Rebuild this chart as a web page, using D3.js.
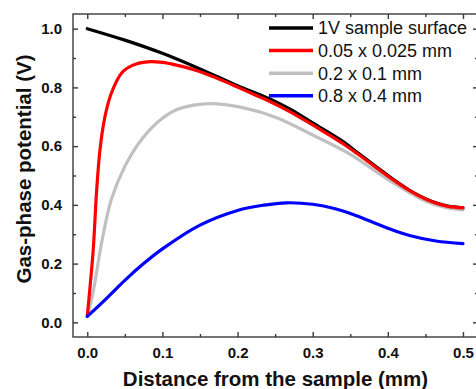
<!DOCTYPE html>
<html>
<head>
<meta charset="utf-8">
<script src="https://cdn.jsdelivr.net/npm/d3@7"></script>
<style>
  body { margin: 0; background: #fff; }
  svg { display: block; font-family: Arial, "Liberation Sans", sans-serif; }
  .axis path, .axis line { stroke: #3a3a3a; stroke-width: 1.4; }
  .axis text { font-size: 15px; font-weight: bold; fill: #111; }
</style>
</head>
<body>
<div id="chart"></div>
<script>
// series
const seriesNames = ['1V sample surface', '0.05 x 0.025 mm', '0.2 x 0.1 mm', '0.8 x 0.4 mm'];
const seriesColors = ['#000000', '#ff0000', '#c0c0c0', '#0000ff'];

const blackX = [0, 0.05, 0.1, 0.15, 0.2, 0.243, 0.27, 0.3, 0.34, 0.36, 0.385, 0.41, 0.43, 0.45, 0.465, 0.48, 0.5];
const blackY = [1.0, 0.961, 0.916, 0.863, 0.806, 0.761, 0.726, 0.679, 0.616, 0.577, 0.529, 0.482, 0.448, 0.421, 0.406, 0.396, 0.39];

const redX = [0, 0.004, 0.008, 0.0125, 0.017, 0.0235, 0.032, 0.046, 0.06, 0.08, 0.1, 0.12, 0.14, 0.16, 0.185, 0.2, 0.22, 0.243, 0.27, 0.3, 0.32, 0.34, 0.36, 0.385, 0.41, 0.43, 0.45, 0.465, 0.48, 0.5];
const redY = [0.02, 0.13, 0.25, 0.45, 0.59, 0.70, 0.78, 0.85, 0.875, 0.887, 0.885, 0.875, 0.862, 0.844, 0.818, 0.801, 0.778, 0.752, 0.717, 0.672, 0.641, 0.609, 0.573, 0.526, 0.48, 0.447, 0.42, 0.405, 0.395, 0.39];

const grayX = [0, 0.005, 0.01, 0.019, 0.032, 0.05, 0.072, 0.1, 0.123, 0.163, 0.207, 0.252, 0.3, 0.35, 0.4, 0.45, 0.475, 0.5];
const grayY = [0.02, 0.07, 0.134, 0.27, 0.418, 0.531, 0.622, 0.695, 0.728, 0.745, 0.731, 0.697, 0.638, 0.572, 0.487, 0.413, 0.392, 0.383];

const blueX = [0, 0.025, 0.05, 0.075, 0.1, 0.15, 0.2, 0.235, 0.265, 0.3, 0.33, 0.353, 0.38, 0.41, 0.43, 0.464, 0.5];
const blueY = [0.02, 0.08, 0.143, 0.2, 0.25, 0.331, 0.381, 0.399, 0.407, 0.402, 0.387, 0.368, 0.341, 0.311, 0.295, 0.277, 0.268];

const xTicks = [0, 0.1, 0.2, 0.3, 0.4, 0.5];
const xMinor = [0.05, 0.15, 0.25, 0.35, 0.45];
const yTicks = [0, 0.2, 0.4, 0.6, 0.8, 1.0];
const yMinor = [0.1, 0.3, 0.5, 0.7, 0.9];

const width = 476;
const height = 389;
const margin = { top: 14, right: -2, bottom: 52, left: 73 };

const svg = d3.select('#chart')
  .append('svg')
  .attr('width', width)
  .attr('height', height);

const x = d3.scaleLinear().domain([-0.019, 0.52]).range([margin.left, width - margin.right]);
const y = d3.scaleLinear().domain([-0.05, 1.05]).range([height - margin.bottom, margin.top]);

const fmt = d3.format('.1f');
const bottom = height - margin.bottom;
const right = width - margin.right;

// frame (right edge falls just outside the picture)
svg.append('rect')
  .attr('x', margin.left).attr('y', margin.top)
  .attr('width', right - margin.left).attr('height', bottom - margin.top)
  .attr('fill', 'none').attr('stroke', '#3a3a3a').attr('stroke-width', 1.4);

// ticks point inward on all four sides
function addAxis(axis, transform) {
  const g = svg.append('g').attr('class', 'axis').attr('transform', transform).call(axis);
  g.select('.domain').remove();
  return g;
}

addAxis(d3.axisBottom(x).tickValues(xTicks).tickFormat(fmt).tickSizeInner(-5).tickPadding(10), `translate(0,${bottom})`);
addAxis(d3.axisBottom(x).tickValues(xMinor).tickFormat('').tickSizeInner(-3), `translate(0,${bottom})`);
addAxis(d3.axisTop(x).tickValues(xTicks).tickFormat('').tickSizeInner(-5), `translate(0,${margin.top})`);
addAxis(d3.axisTop(x).tickValues(xMinor).tickFormat('').tickSizeInner(-3), `translate(0,${margin.top})`);

addAxis(d3.axisLeft(y).tickValues(yTicks).tickFormat(fmt).tickSizeInner(-5).tickPadding(11), `translate(${margin.left},0)`);
addAxis(d3.axisLeft(y).tickValues(yMinor).tickFormat('').tickSizeInner(-3), `translate(${margin.left},0)`);
addAxis(d3.axisRight(y).tickValues(yTicks).tickFormat('').tickSizeInner(-5), `translate(${right},0)`);
addAxis(d3.axisRight(y).tickValues(yMinor).tickFormat('').tickSizeInner(-3), `translate(${right},0)`);

// lines
const line = d3.line()
  .x((d) => x(d[0]))
  .y((d) => y(d[1]))
  .curve(d3.curveCatmullRom.alpha(0.5));

const series = [
  { xs: blackX, ys: blackY, color: seriesColors[0] },
  { xs: grayX, ys: grayY, color: seriesColors[2] },
  { xs: redX, ys: redY, color: seriesColors[1] },
  { xs: blueX, ys: blueY, color: seriesColors[3] },
];

svg.append('g')
  .selectAll('path')
  .data(series)
  .join('path')
  .attr('d', (s) => line(d3.zip(s.xs, s.ys)))
  .attr('fill', 'none')
  .attr('stroke', (s) => s.color)
  .attr('stroke-width', 3.2)
  .attr('stroke-linejoin', 'round')
  .attr('stroke-linecap', 'round');

// legend
const legend = svg.append('g').attr('transform', 'translate(269, 28)');
const rows = legend.selectAll('g')
  .data(seriesNames)
  .join('g')
  .attr('transform', (d, i) => `translate(0, ${i * 22.6})`);

rows.append('line')
  .attr('x1', 0).attr('x2', 44)
  .attr('stroke', (d, i) => seriesColors[i])
  .attr('stroke-width', 3.5);

rows.append('text')
  .attr('x', 49)
  .attr('dy', '0.36em')
  .attr('font-size', 18)
  .attr('fill', '#111')
  .text((d) => d);

// axis titles
svg.append('text')
  .attr('x', (margin.left + right) / 2)
  .attr('y', 386)
  .attr('text-anchor', 'middle')
  .attr('font-size', 20.5)
  .attr('font-weight', 'bold')
  .attr('fill', '#111')
  .text('Distance from the sample (mm)');

svg.append('text')
  .attr('transform', 'translate(31, 169) rotate(-90)')
  .attr('text-anchor', 'middle')
  .attr('font-size', 20.5)
  .attr('font-weight', 'bold')
  .attr('fill', '#111')
  .text('Gas-phase potential (V)');
</script>
</body>
</html>
